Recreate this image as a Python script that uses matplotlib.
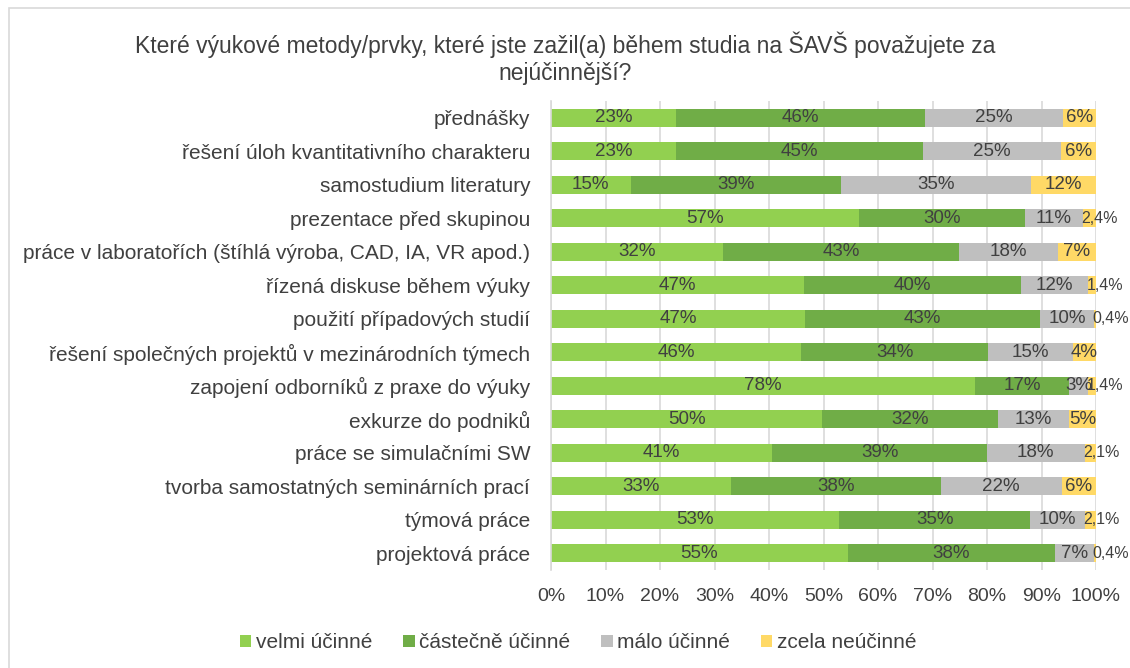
import matplotlib.pyplot as plt
from matplotlib.patches import Rectangle
from matplotlib.ticker import FuncFormatter

plt.rcParams['font.family'] = ['Liberation Sans', 'DejaVu Sans']

kategorie = [u"přednášky",
             u"řešení úloh kvantitativního charakteru",
             u"samostudium literatury",
             u"prezentace před skupinou",
             u"práce v laboratořích (štíhlá výroba, CAD, IA, VR apod.)",
             u"řízená diskuse během výuky",
             u"použití případových studií",
             u"řešení společných projektů v mezinárodních týmech",
             u"zapojení odborníků z praxe do výuky",
             u"exkurze do podniků",
             u"práce se simulačními SW",
             u"tvorba samostatných seminárních prací",
             u"týmová práce",
             u"projektová práce"]

velmi     = [23.0, 22.9, 14.6, 56.6, 31.6, 46.4, 46.6, 45.9, 77.8, 49.8, 40.6, 33.0, 52.9, 54.5]
castecne  = [45.6, 45.3, 38.7, 30.4, 43.3, 39.9, 43.2, 34.3, 17.3, 32.2, 39.4, 38.5, 35.0, 38.0]
malo      = [25.4, 25.4, 34.7, 10.6, 18.1, 12.3, 9.8, 15.5, 3.5, 13.0, 17.9, 22.2, 10.0, 7.1]
zcela     = [6.0, 6.4, 12.0, 2.4, 7.0, 1.4, 0.4, 4.3, 1.4, 5.0, 2.1, 6.3, 2.1, 0.4]

popisky = [
    ["23%", "46%", "25%", "6%"],
    ["23%", "45%", "25%", "6%"],
    ["15%", "39%", "35%", "12%"],
    ["57%", "30%", "11%", "2,4%"],
    ["32%", "43%", "18%", "7%"],
    ["47%", "40%", "12%", "1,4%"],
    ["47%", "43%", "10%", "0,4%"],
    ["46%", "34%", "15%", "4%"],
    ["78%", "17%", "3%", "1,4%"],
    ["50%", "32%", "13%", "5%"],
    ["41%", "39%", "18%", "2,1%"],
    ["33%", "38%", "22%", "6%"],
    ["53%", "35%", "10%", "2,1%"],
    ["55%", "38%", "7%", "0,4%"],
]

serie = [u"velmi účinné", u"částečně účinné", u"málo účinné", u"zcela neúčinné"]
barvy = ['#92D050', '#70AD47', '#BFBFBF', '#FFD966']
text_barva = '#404040'


def main():
    fig = plt.figure(figsize=(11.3, 6.68), dpi=100)
    fig.patches.append(Rectangle((9/1130., -0.1), 1.2, 1.1 - 8/668., transform=fig.transFigure,
                                 fill=False, edgecolor='#D9D9D9', linewidth=1.2))
    ax = fig.add_axes([551/1130., 1 - 570/668., 545/1130., 469/668.])

    y = range(len(kategorie))
    data = [velmi, castecne, malo, zcela]
    left = [0.0] * len(kategorie)
    for s in range(4):
        bars = ax.barh(y, data[s], left=left, height=0.53, color=barvy[s], label=serie[s], zorder=2)
        for i, b in enumerate(bars):
            t = popisky[i][s]
            if ',' in t:
                # male hodnoty - popisek zacina u segmentu
                ax.text(left[i] - 0.3, i, t, ha='left', va='center', fontsize=11.5,
                        color=text_barva, zorder=3)
            else:
                ax.text(left[i] + data[s][i] / 2.0, i, t, ha='center', va='center',
                        fontsize=13.5, color=text_barva, zorder=3)
        left = [left[i] + data[s][i] for i in range(len(left))]

    ax.set_ylim(len(kategorie) - 0.5, -0.5)
    ax.set_xlim(0, 100)
    ax.set_xticks(range(0, 101, 10))
    ax.xaxis.set_major_formatter(FuncFormatter(lambda v, p: "%d%%" % v))
    ax.set_yticks(list(y))
    ax.set_yticklabels(kategorie)
    ax.tick_params(axis='both', length=0, labelcolor=text_barva)
    ax.tick_params(axis='y', pad=15, labelsize=15)
    ax.tick_params(axis='x', pad=13, labelsize=14)
    ax.grid(axis='x', color='#D9D9D9', linewidth=1.2, zorder=0)
    for sp in ['top', 'right', 'bottom']:
        ax.spines[sp].set_visible(False)
    ax.spines['left'].set_color('#D9D9D9')
    ax.spines['left'].set_linewidth(1.2)

    fig.text(565/1130., 1 - 58/668., u"Které výukové metody/prvky, které jste zažil(a) během studia na ŠAVŠ považujete za\nnejúčinnější?",
             ha='center', va='center', fontsize=16.5, color=text_barva, linespacing=1.2)

    fig.legend(loc='center', bbox_to_anchor=(578/1130., 1 - 643/668.), ncol=4, frameon=False,
               fontsize=15, handlelength=0.55, handleheight=0.55, handletextpad=0.2,
               columnspacing=1.5, labelcolor=text_barva)

    fig.savefig('out.png', dpi=100)


if (__name__ == '__main__'):
    main()
